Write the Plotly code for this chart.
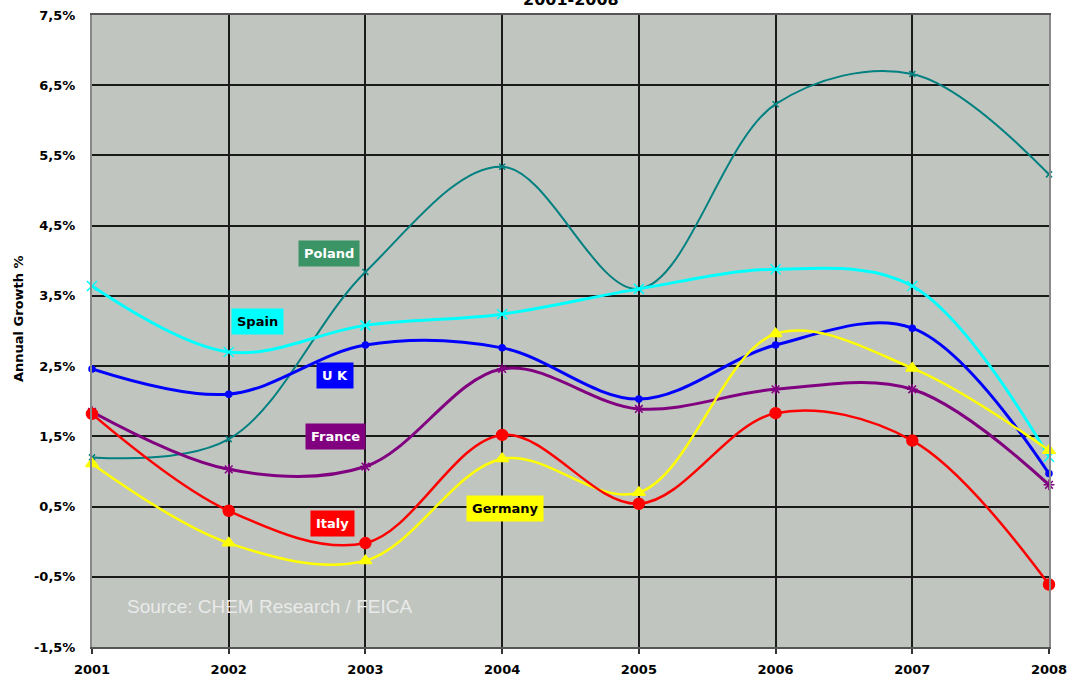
import plotly.graph_objects as go

years = [2001, 2002, 2003, 2004, 2005, 2006, 2007, 2008]
poland = [1.20, 1.46, 3.84, 5.34, 3.60, 6.23, 6.66, 5.23]
spain = [3.64, 2.70, 3.08, 3.24, 3.60, 3.88, 3.64, 1.21]
uk = [2.46, 2.10, 2.80, 2.76, 2.03, 2.80, 3.04, 0.97]
france = [1.85, 1.03, 1.07, 2.46, 1.89, 2.17, 2.17, 0.81]
italy = [1.82, 0.44, -0.02, 1.52, 0.54, 1.83, 1.44, -0.61]
germany = [1.11, -0.02, -0.27, 1.18, 0.70, 2.96, 2.47, 1.30]

ytick_vals = [-1.5, -0.5, 0.5, 1.5, 2.5, 3.5, 4.5, 5.5, 6.5, 7.5]
ytick_text = ["-1,5%", "-0,5%", "0,5%", "1,5%", "2,5%", "3,5%", "4,5%", "5,5%", "6,5%", "7,5%"]

series = [
    ("Poland", poland, "#008080", 2, "x-thin-open", 6),
    ("Spain", spain, "#00FFFF", 3, "x-thin-open", 10),
    ("UK", uk, "#0000FF", 3, "circle", 0),
    ("France", france, "#800080", 3, "asterisk-open", 9),
    ("Germany", germany, "#FFFF00", 2.5, "triangle-up", 11),
    ("Italy", italy, "#FF0000", 2.5, "circle", 11),
]

fig = go.Figure()
for name, vals, col, w, sym, size in series:
    fig.add_trace(go.Scatter(
        x=years, y=vals, name=name, mode="lines+markers",
        line=dict(color=col, width=w, shape="spline", smoothing=1.0),
        marker=dict(symbol=sym, size=size, color=col, line=dict(color=col, width=1.5)),
        showlegend=False, cliponaxis=False,
    ))

labels = [
    ("Poland", 2002.73, 4.11, "#3A9466", "white"),
    ("Spain", 2002.21, 3.13, "#00FFFF", "black"),
    ("U K", 2002.78, 2.36, "#0000FF", "white"),
    ("France", 2002.78, 1.495, "#800080", "white"),
    ("Italy", 2002.76, 0.26, "#FF0000", "white"),
    ("Germany", 2004.02, 0.47, "#FFFF00", "black"),
]
for txt, x, y, bg, fc in labels:
    fig.add_annotation(x=x, y=y, xref="x", yref="y", text="<b>" + txt + "</b>",
                       showarrow=False, bgcolor=bg, borderpad=5,
                       font=dict(family="DejaVu Sans", size=13, color=fc))

fig.add_annotation(x=2001.245, y=-0.92, xref="x", yref="y", xanchor="left",
                   text="Source: CHEM Research / FEICA", showarrow=False,
                   font=dict(family="Liberation Sans", size=19, color="#EAEAEA"))

fig.add_annotation(x=0, y=0.5, xref="paper", yref="paper", xanchor="center",
                   xshift=-74, yshift=12,
                   text="<b>Annual Growth %</b>", textangle=-90, showarrow=False,
                   font=dict(family="DejaVu Sans", size=13, color="black"))

fig.add_annotation(x=0.5, y=1, xref="paper", yref="paper", yanchor="bottom", yshift=4,
                   text="<b>2001-2008</b>", showarrow=False,
                   font=dict(family="DejaVu Sans", size=16, color="black"))

fig.update_layout(
    width=1076, height=691,
    margin=dict(l=92, r=27, t=8, b=44),
    paper_bgcolor="white", plot_bgcolor="#C0C5BF",
    font=dict(family="DejaVu Sans", color="black"),
)
fig.update_xaxes(range=[2001, 2008], tickvals=years, ticktext=[str(y) for y in years],
                 showgrid=True, gridcolor="#1A1A1A", gridwidth=2,
                 showline=True, linecolor="#555555", linewidth=2, mirror=True,
                 ticks="outside", ticklen=5, tickcolor="#333333", tickwidth=2,
                 ticklabelstandoff=4,
                 tickfont=dict(size=13, family="DejaVu Sans", weight="bold"),
                 zeroline=False)
fig.update_yaxes(range=[-1.5, 7.5], tickvals=ytick_vals, ticktext=ytick_text,
                 showgrid=True, gridcolor="#1A1A1A", gridwidth=2,
                 showline=True, linecolor="#888888", linewidth=2, mirror=True,
                 ticks="", ticklabelstandoff=12,
                 tickfont=dict(size=13, family="DejaVu Sans", weight="bold"),
                 zeroline=False)

fig.write_html("out.html", config={"displayModeBar": False},
               post_script="document.body.style.margin='0';document.body.style.padding='0';"
                           "document.body.style.overflow='hidden';")
